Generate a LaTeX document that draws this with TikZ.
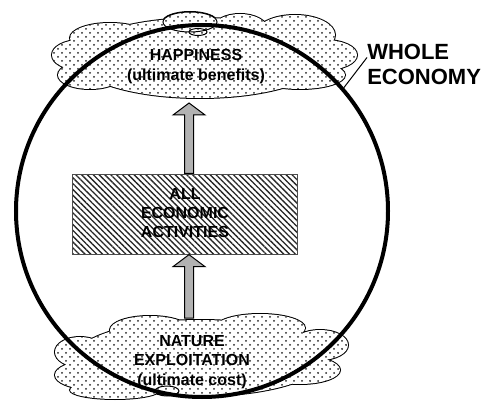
\documentclass[tikz,border=0pt]{standalone}
\usepackage{fontspec}
\setmainfont{Liberation Sans}
\usetikzlibrary{patterns,patterns.meta,calc}
\pgfdeclarepatternformonly{cloudDots}{\pgfpoint{-1pt}{-1pt}}{\pgfpoint{7pt}{7pt}}{\pgfpoint{6pt}{6pt}}{%
  \pgfpathcircle{\pgfpoint{1.5pt}{1.5pt}}{0.75pt}%
  \pgfpathcircle{\pgfpoint{4.5pt}{4.5pt}}{0.75pt}%
  \pgfusepath{fill}}
\begin{document}
\begin{tikzpicture}[x=0.75pt,y=-0.75pt,
  cloudline/.style={draw=black,line width=1.5pt},
  dotfill/.style={pattern=cloudDots,pattern color=black!85},
  lbl/.style={align=center,font=\bfseries\fontsize{12}{14.5}\selectfont,inner sep=0pt},
  barrow/.style={draw=black,line width=0.75pt,fill=black!30,line join=miter},
  boxstyle/.style={draw=black!70,line width=0.75pt,pattern={Lines[angle=-45,distance=3.1pt,line width=1pt]},pattern color=black!85,minimum width=168.75pt,minimum height=60pt,inner sep=0pt}]
\useasboundingbox (0,0) rectangle (493,403);
% top cloud
\def\topcloud{(200,58) ellipse (125 and 40) (80,55) ellipse (28 and 15) (110,38) ellipse (40 and 15) (90,75) ellipse (32 and 14) (190,22) ellipse (27 and 10) (240,30) ellipse (28 and 16) (295,35) ellipse (40 and 20) (325,55) ellipse (32 and 15) (300,75) ellipse (45 and 14)}
\draw[cloudline] \topcloud;
\fill[white] \topcloud;
\fill[dotfill] \topcloud;
\draw[line width=0.75pt] (190,22) ellipse (27 and 10);
\draw[line width=0.75pt] (198,32) ellipse (9 and 3.5);
% bottom cloud
\def\botcloud{(200,358) ellipse (125 and 38) (80,352) ellipse (25 and 15) (90,375) ellipse (35 and 14) (150,330) ellipse (40 and 14) (260,328) ellipse (45 and 14) (320,345) ellipse (28 and 15) (300,370) ellipse (40 and 14) (115,390) ellipse (45 and 9)}
\draw[cloudline] \botcloud;
\fill[white] \botcloud;
\fill[dotfill] \botcloud;
\draw[line width=0.75pt] (167,391) ellipse (12 and 5);
% whole economy circle
\node[draw,circle,line width=3pt,minimum size=279pt,inner sep=0pt] (eco) at (202,211) {};
% box
\node[boxstyle] (box) at (184.5,214) {};
\node[lbl] (boxtxt) at (185,213) {ALL\\ECONOMIC\\ACTIVITIES};
% arrows
\coordinate (ax) at (189,0);
\coordinate (t1) at (189,103);
\coordinate (b1) at (box.north -| ax);
\draw[barrow] ($(b1)+(-4.5,0)$) -- ($(t1)+(-4.5,12)$) -- ($(t1)+(-16,12)$) -- (t1) -- ($(t1)+(16,12)$) -- ($(t1)+(4.5,12)$) -- ($(b1)+(4.5,0)$) -- cycle;
\coordinate (t2) at (box.south -| ax);
\coordinate (b2) at (189,318);
\draw[barrow] ($(b2)+(-4.5,0)$) -- ($(t2)+(-4.5,12)$) -- ($(t2)+(-16,12)$) -- (t2) -- ($(t2)+(16,12)$) -- ($(t2)+(4.5,12)$) -- ($(b2)+(4.5,0)$) -- cycle;
% texts
\node[lbl] (happy) at (196,66.5) {HAPPINESS\\(ultimate benefits)};
\node[lbl] (nature) at (192,362) {NATURE\\EXPLOITATION\\(ultimate cost)};
\node[align=left,anchor=west,inner sep=0pt,font=\bfseries\fontsize{16.5}{18.75}\selectfont] (whole) at (367,64.5) {WHOLE\\ECONOMY};
\draw[line width=0.75pt] ($(whole.west)+(0,-7)$) -- (eco.41);
\end{tikzpicture}
\end{document}
